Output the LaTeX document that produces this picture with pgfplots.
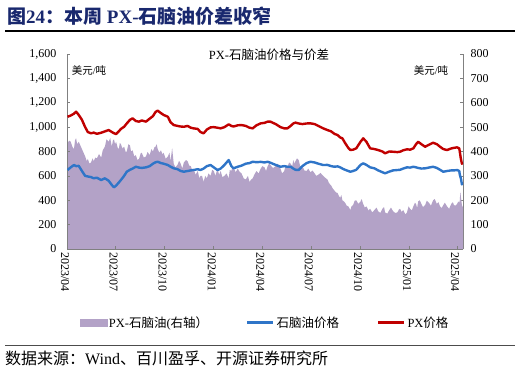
\documentclass[border=0pt]{standalone}
\usepackage{pgfplots}
\pgfplotsset{compat=1.18}
\usepackage{fontspec}
\setmainfont{Liberation Serif}
\newfontfamily\cjk{Noto Sans CJK SC}
\definecolor{pxred}{RGB}{192,0,0}
\definecolor{nblue}{RGB}{47,117,200}
\definecolor{spurp}{RGB}{179,162,199}
\definecolor{titleblue}{RGB}{25,40,110}
\definecolor{axgray}{RGB}{128,128,128}

% day (since 2023-04-01)  naphtha  PX   (USD/t)
\pgfplotstableread{
d n p
1 648 1085
7 670 1095
13 689 1110
17 680 1127
22 682 1100
28 640 1060
34 600 1000
39 595 960
45 590 949
50 580 955
56 585 945
64 566 954
71 580 965
78 560 976
84 525 960
88 506 950
92 520 943
97 545 965
101 566 985
107 600 1003
112 634 1030
118 650 1060
123 660 1072
129 675 1050
135 668 1045
140 665 1055
148 670 1045
155 680 1070
161 700 1090
166 712 1125
170 716 1135
176 705 1115
181 700 1100
189 689 1085
194 675 1040
200 662 1017
207 655 1010
213 640 1005
219 634 1003
226 640 1010
232 645 995
237 648 990
245 655 985
250 648 960
256 660 949
262 680 980
269 689 998
275 670 1000
282 648 995
288 660 990
295 690 1000
303 730 1023
308 680 1010
312 662 1005
320 675 1015
327 684 1017
335 700 1010
342 705 995
348 716 990
355 712 1015
363 715 1031
370 710 1035
376 716 1045
381 708 1045
391 690 1025
400 675 1000
407 680 990
413 675 990
419 675 1010
424 660 1030
428 650 1037
434 648 1030
441 680 1025
449 705 1030
456 716 1031
464 710 1025
471 700 1010
480 689 990
488 690 976
495 680 965
501 675 945
507 678 935
512 670 915
516 660 908
521 650 870
527 640 830
531 634 812
536 640 815
542 650 826
550 690 880
555 703 908
561 690 880
568 670 826
576 662 820
583 645 812
591 630 800
596 621 785
604 635 800
611 645 798
619 648 795
624 650 798
630 660 810
637 670 818
643 668 815
649 675 826
654 670 860
658 665 880
664 660 860
671 662 839
678 668 855
686 675 872
693 665 860
699 650 839
705 634 820
712 640 812
720 645 825
725 645 830
731 648 834
735 640 825
736 610 798
738 580 740
740 530 700
742 545 705
}\prices

% day  PX-naphtha spread (USD/t, right axis)
\pgfplotstableread{
d s
0 430
4 445
7 440
10 420
13 410
15 445
17 455
19 430
22 440
25 425
28 410
31 395
34 380
37 360
39 370
42 350
45 355
48 372
50 360
53 375
56 372
60 390
64 375
67 405
71 420
74 450
78 440
81 455
84 420
86 445
88 450
90 430
92 440
95 415
97 410
99 435
101 430
104 412
107 420
110 398
112 400
115 430
118 425
120 400
123 405
126 380
129 385
132 365
135 370
138 392
140 395
144 375
148 380
151 398
155 385
158 410
161 400
164 418
166 420
168 430
170 410
173 395
176 405
179 388
181 395
185 370
189 380
192 395
194 360
197 414
200 350
203 335
207 345
210 362
213 350
216 330
219 355
223 365
226 360
229 342
232 340
235 320
237 330
241 305
245 320
248 290
250 300
253 300
256 276
259 300
262 290
265 310
269 300
272 325
275 320
278 300
282 330
285 305
288 320
291 295
295 300
299 310
303 290
305 325
308 320
310 340
312 335
316 315
320 330
323 318
327 310
331 290
335 285
339 300
342 275
345 285
348 290
351 305
355 320
359 310
363 330
366 340
370 335
373 320
376 340
379 352
381 345
386 332
391 340
395 350
400 330
403 310
407 320
410 345
413 335
416 355
419 350
422 340
424 365
426 350
428 360
431 372
434 365
437 340
441 340
445 322
449 320
452 330
456 315
460 322
464 310
467 300
471 305
475 312
480 300
484 292
488 285
491 270
495 260
498 248
501 240
504 232
507 230
510 215
512 210
514 222
516 200
519 195
521 190
524 178
527 175
529 168
531 160
533 175
536 180
539 198
542 200
546 185
550 195
552 205
555 185
558 170
561 175
565 158
568 165
572 150
576 160
580 170
583 155
587 148
591 165
594 172
596 150
600 145
604 160
607 170
611 155
615 148
619 150
622 162
624 165
627 152
630 160
634 142
637 150
640 175
643 165
646 158
649 175
652 190
654 185
656 168
658 195
661 200
664 185
667 172
671 180
674 198
678 190
682 178
686 200
689 205
693 185
696 192
699 175
702 168
705 180
708 190
712 175
716 165
720 185
723 192
725 180
728 178
731 185
733 195
735 190
736 200
737 235
738 215
740 180
742 170
}\spread

\pgfplotsset{
  base/.style={
    scale only axis, width=396pt, height=195pt,
    xmin=0, xmax=742,
    at={(67pt,-249pt)}, anchor=south west,
    tick align=inside,
    axis line style={axgray, line width=0.8pt},
    major tick style={axgray, line width=0.6pt},
    major tick length=3pt,
    tick label style={font=\fontsize{12}{13}\selectfont, text=black},
    /pgf/number format/assume math mode=true,
    /pgf/number format/1000 sep={,},
  }
}

\begin{document}
\begin{tikzpicture}[x=1pt,y=1pt]
\path[use as bounding box] (0,0) rectangle (521,-374);
% header
\node[anchor=west, inner sep=0pt, text=titleblue, font=\fontsize{19}{21}\selectfont\bfseries] at (7,-16)
  {{\cjk 图}24{\cjk ：本周} PX-{\cjk 石脑油价差收窄}};
\draw[line width=1.2pt, black] (5,-31) -- (515,-31);
\draw[line width=0.9pt, black!70] (5,-345) -- (515,-345);
\node[anchor=west, inner sep=0pt, font=\fontsize{16}{18}\selectfont] at (5,-358)
  {{\cjk 数据来源：}Wind{\cjk 、百川盈孚、开源证券研究所}};

% right axis: spread area
\begin{axis}[base,
  ymin=0, ymax=800, ytick={0,100,...,800},
  axis y line*=right, axis x line=none,
  yticklabel style={xshift=4pt},
]
\addplot[fill=spurp, draw=none] table[x=d, y=s] {\spread} \closedcycle;
\end{axis}

% left axis: prices
\begin{axis}[base,
  ymin=0, ymax=1600, ytick={0,200,...,1600},
  axis y line*=left, axis x line*=bottom,
  yticklabel style={xshift=-7pt},
  xtick={0,91,183,275,366,457,549,641,731},
  xticklabels={2023/04,2023/07,2023/10,2024/01,2024/04,2024/07,2024/10,2025/01,2025/04},
  xticklabel style={rotate=-90, anchor=west, xshift=0pt, yshift=-2pt},
  legend columns=3,
  legend style={at={(0.5,-0.335)}, anchor=north, draw=none, fill=none,
    font=\fontsize{12.5}{14}\selectfont, inner sep=0pt,
    /tikz/every even column/.append style={column sep=36pt}},
  legend cell align=left,
]
\addlegendimage{legend image code/.code={\fill[spurp] (0pt,-3.5pt) rectangle (27pt,3.5pt);}}
\addlegendentry{PX-{\cjk 石脑油}({\cjk 右轴）}}
\addplot[nblue, line width=2.4pt, line join=round,
  legend image code/.code={\draw[nblue, line width=2.4pt] (0pt,0pt) -- (26pt,0pt);}]
  table[x=d, y=n] {\prices};
\addlegendentry{{\cjk 石脑油价格}}
\addplot[pxred, line width=2.4pt, line join=round,
  legend image code/.code={\draw[pxred, line width=2.4pt] (0pt,0pt) -- (26pt,0pt);}]
  table[x=d, y=p] {\prices};
\addlegendentry{PX{\cjk 价格}}
\end{axis}

\node[font=\fontsize{12.5}{14}\selectfont] at (269,-55) {PX-{\cjk 石脑油价格与价差}};
\node[font=\fontsize{10.5}{12}\selectfont] at (89,-70) {{\cjk 美元}/{\cjk 吨}};
\node[font=\fontsize{10.5}{12}\selectfont] at (431,-70) {{\cjk 美元}/{\cjk 吨}};
\end{tikzpicture}
\end{document}
